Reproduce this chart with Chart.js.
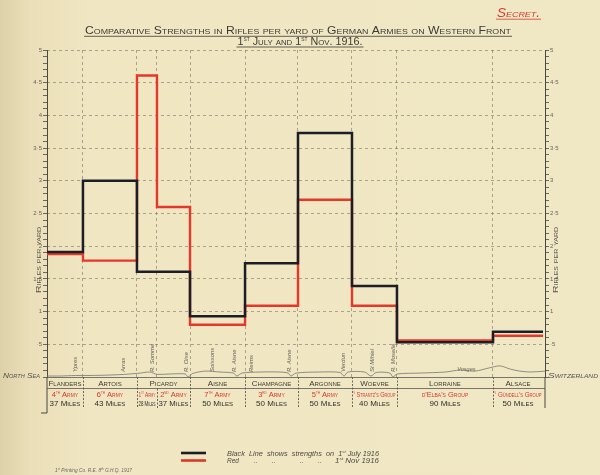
<!DOCTYPE html>
<html><head><meta charset="utf-8">
<script src="https://cdn.jsdelivr.net/npm/chart.js@4.4.1/dist/chart.umd.min.js"></script>
<style>html,body{margin:0;padding:0;background:#efe5c0;}#wrap{width:600px;height:475px;}</style>
</head><body><div id="wrap"><canvas id="c" width="600" height="475"></canvas></div>
<script>
// ---- data ----
const sectorNames = ['Flanders','Artois','Picardy','Picardy','Aisne','Champagne','Argonne','Woevre','Lorraine','Alsace'];
const armyNames = ['4^th^ Army','6^th^ Army','1^st^ Army','2^nd^ Army','7^th^ Army','3^rd^ Army','5^th^ Army',"^v^ Strantz's Group","d'Elba's Group","^v^ Gündell's Group"];
const frontMiles = [37,43,28,37,50,50,50,40,90,50];
// sector limits as drawn along the front (miles from the North Sea)
const boundaries = [0,34.3,85.8,104.9,136.4,188.9,239.4,290.9,333.8,425.4,473.1];
const july1916 = [1.91,3.00,1.61,1.61,0.93,1.74,3.73,1.39,0.53,0.69];
const nov1916  = [1.88,1.78,4.61,2.60,0.80,1.09,2.71,1.09,0.56,0.63];
const yMajorTicks = [0.5,1,1.5,2,2.5,3,3.5,4,4.5,5];
const riverNames = ['Ypres','Arras','R. Somme','R. Oise','Soissons','R. Aisne','Reims','R. Aisne','Verdun','St Mihiel','R. Moselle'];
const riverMiles = [26.7,72.5,100.2,132.6,157.4,178.4,194.6,230.8,282.3,310,330];
const profileMiles = [0,12,27,41,60,74,89,98,105,117,132,134.5,139,151,165,178,181,186,203,222,230,232.7,237.5,260,279.5,283.3,287,303,309,314,327,330,334,356,380,394,408,422,432,442,451,461,475];
const profileHeight = [0.015,0.015,0.023,0.023,0.03,0.04,0.06,0.076,0.04,0.046,0.046,0,0.054,0.09,0.076,0.06,0.015,0.06,0.076,0.076,0.06,0.015,0.06,0.076,0.07,0.015,0.076,0.076,0.015,0.07,0.06,0,0.046,0.06,0.076,0.107,0.09,0.14,0.17,0.12,0.09,0.076,0.09];

const FAM = "'Liberation Sans', 'DejaVu Sans', sans-serif";
const INK = '#3d3b36', RED = '#d8382c';

const stepData = vals => vals.map((v,i)=>({x:boundaries[i], y:v})).concat([{x:boundaries[vals.length], y:vals[vals.length-1]}]);
const parse = s => s.split('^').map((t,i)=>({t, sup:i%2===1})).filter(p=>p.t.length);
const isMajor = v => Math.abs(v*2-Math.round(v*2))<1e-6;
const fmt = v => { if (v===0) return ''; if (!isMajor(v)) return ''; let s = (Math.round(v*10)/10).toString(); if (s.startsWith('0.')) s = s.slice(1); return s.replace('.', '·'); };
const minorTicks = s => { s.ticks = Array.from({length:51},(_,i)=>({value:i/10})); };

function rich(ctx, parts, x, y, o) {
  const base = o.size;
  const fontFor = p => `${o.italic?'italic ':''}${o.caps?'small-caps ':''}${o.weight||'normal'} ${p.sup? base*0.6 : base}px ${FAM}`;
  let total = 0; const ws = [];
  parts.forEach(p=>{ctx.font=fontFor(p); const w=ctx.measureText(p.t).width; ws.push(w); total+=w;});
  let sx = 1;
  if (o.width) sx = o.width/total; else if (o.maxWidth && total>o.maxWidth) sx = o.maxWidth/total;
  const W = total*sx;
  const x0 = o.align==='center'? x-W/2 : o.align==='right'? x-W : x;
  ctx.save(); ctx.fillStyle=o.color; ctx.textBaseline='alphabetic'; ctx.textAlign='left';
  ctx.translate(x0,y); ctx.scale(sx,1);
  let cx=0;
  parts.forEach((p,i)=>{ctx.font=fontFor(p); ctx.fillText(p.t,cx,p.sup? -base*0.4:0); cx+=ws[i];});
  ctx.restore();
  if (o.underline) {ctx.save(); ctx.strokeStyle=o.color; ctx.lineWidth=o.ulw||0.8; ctx.beginPath(); ctx.moveTo(x0-1,y+o.underline); ctx.lineTo(x0+W+1,y+o.underline); ctx.stroke(); ctx.restore();}
  return W;
}

const bgPlugin = {id:'bg', beforeDraw(c){const g=c.ctx; const gr=g.createLinearGradient(0,0,600,0);
  gr.addColorStop(0,'#ddd1a9'); gr.addColorStop(0.05,'#eadfb8'); gr.addColorStop(0.15,'#f0e6c2'); gr.addColorStop(1,'#f0e7c4');
  g.save(); g.fillStyle=gr; g.fillRect(0,0,c.width,c.height); g.restore();}};

const decoPlugin = {id:'deco', afterDraw(c){
  const g=c.ctx, xs=c.scales.x, A=c.chartArea; const px=v=>xs.getPixelForValue(v);
  // titles
  rich(g, parse('Secret.'), 518.5, 17, {size:12, caps:true, italic:true, color:RED, align:'center', width:43, underline:2.2});
  rich(g, parse('Comparative Strengths in Rifles per yard of German Armies on Western Front'), 298, 34, {size:11, caps:true, color:INK, align:'center', width:426, underline:2.3});
  rich(g, parse('1^st^ July and 1^st^ Nov. 1916.'), 300, 45, {size:11, caps:true, color:INK, align:'center', width:125, underline:2});
  // axis titles
  [[38,260],[555,260]].forEach(([x,y])=>{g.save(); g.translate(x,y); g.rotate(-Math.PI/2);
    rich(g, parse('Rifles per yard'), 0, 2.5, {size:7.5, caps:true, color:'#55534d', align:'center', width:66}); g.restore();});
  // river / town names
  riverNames.forEach((n,i)=>{g.save(); g.translate(px(riverMiles[i]), 372); g.rotate(-Math.PI/2);
    rich(g, [{t:n}], 0, 2, {size:6, italic:true, color:'#66645d', align:'left'}); g.restore();});
  rich(g, [{t:'Vosges'}], px(400), 371, {size:5.5, italic:true, color:'#66645d', align:'center'});
  rich(g, parse('North Sea'), 3, 378, {size:7.5, italic:true, caps:true, color:'#55534d', align:'left', width:37});
  rich(g, parse('Switzerland'), 548, 378, {size:7.5, italic:true, caps:true, color:'#55534d', align:'left', width:50});
  // table lines
  const top=A.bottom, mid=top+11.5, bot=408;
  g.save(); g.strokeStyle='#6a6862'; g.lineWidth=0.9;
  g.beginPath(); g.moveTo(px(0),top+0.5); g.lineTo(A.right,top+0.5); g.moveTo(px(0),mid); g.lineTo(A.right,mid); g.stroke();
  g.strokeStyle='#4a4844'; g.lineWidth=1;
  g.beginPath(); g.moveTo(A.left,top); g.lineTo(A.left,413); g.moveTo(A.left-6,413); g.lineTo(A.left,413); g.moveTo(A.right,top); g.lineTo(A.right,bot); g.stroke();
  g.setLineDash([2,1.5]); g.strokeStyle='#5a5852'; g.lineWidth=0.9;
  for (let i=1;i<boundaries.length-1;i++){ const x=Math.round(px(boundaries[i]))+0.5;
    g.beginPath(); g.moveTo(x, sectorNames[i]===sectorNames[i-1]? mid: top); g.lineTo(x,bot); g.stroke(); }
  g.restore();
  // sector names (merged spans)
  let s=0;
  for (let i=1;i<=sectorNames.length;i++){ if (i===sectorNames.length || sectorNames[i]!==sectorNames[s]) {
      const x0=px(boundaries[s]), x1=px(boundaries[i]);
      rich(g, [{t:sectorNames[s]}], (x0+x1)/2, top+9, {size:8, caps:true, color:INK, align:'center', maxWidth:x1-x0-3});
      s=i; } }
  armyNames.forEach((n,i)=>{ const x0=px(boundaries[i]), x1=px(boundaries[i+1]);
    rich(g, parse(n), (x0+x1)/2, top+20, {size:7.5, caps:true, color:RED, align:'center', maxWidth:x1-x0-3});
    rich(g, [{t:frontMiles[i]+' Miles'}], (x0+x1)/2, top+29, {size:8, caps:true, color:'#2f2e2a', align:'center', maxWidth:x1-x0-3}); });
  // legend
  g.save(); g.lineWidth=2.6; g.strokeStyle='#1b1e26'; g.beginPath(); g.moveTo(181,453); g.lineTo(206,453); g.stroke();
  g.strokeStyle=RED; g.beginPath(); g.moveTo(181,460.5); g.lineTo(206,460.5); g.stroke(); g.restore();
  const lo={size:6.5, italic:true, color:'#4d4b46', align:'left'};
  rich(g, parse('Black  Line  shows  strengths  on  1^st^ July 1916'), 227, 455.5, {...lo, width:152});
  rich(g, [{t:'Red'}], 227, 463, lo);
  [254,272,300,318].forEach(x=>rich(g, [{t:'..'}], x, 463, lo));
  rich(g, parse('1^st^ Nov 1916'), 335, 463, {...lo, width:44});
  rich(g, parse('1^st^ Printing Co. R.E. 8^th^ G.H.Q. 1917'), 55, 472, {size:4.5, italic:true, color:'#6a6862', align:'left', width:77});
}};

const gridDash = [3,3];
const gridColor = 'rgba(90,88,80,0.6)';
new Chart(document.getElementById('c'), {
  type:'line',
  data:{datasets:[
    {label:'1st July 1916', data:stepData(july1916), borderColor:'#1b1e26', borderWidth:2.5, stepped:true, pointRadius:0, fill:false, borderCapStyle:'butt', borderJoinStyle:'miter'},
    {label:'1st Nov 1916', data:stepData(nov1916), borderColor:'#e5382b', borderWidth:2.4, stepped:true, pointRadius:0, fill:false, borderCapStyle:'butt', borderJoinStyle:'miter'},
    {label:'front', data:profileMiles.map((m,i)=>({x:m,y:profileHeight[i]})), borderColor:'#77756d', borderWidth:0.8, tension:0.3, pointRadius:0, fill:false}
  ]},
  options:{
    responsive:false, animation:false, devicePixelRatio:1,
    layout:{padding:{top:50,left:0,right:0,bottom:0}},
    plugins:{legend:{display:false}, tooltip:{enabled:false}, title:{display:false}},
    scales:{
      x:{type:'linear', min:0, max:475, afterBuildTicks:s=>{s.ticks=boundaries.slice(1,-1).map(v=>({value:v}));},
         ticks:{display:false}, grid:{color:gridColor, lineWidth:0.8, drawTicks:false, borderDash:gridDash},
         border:{display:false, dash:gridDash}, afterFit:s=>{s.height=98;}},
      y:{position:'left', min:0, max:5, afterBuildTicks:minorTicks,
         ticks:{autoSkip:false, callback:v=>fmt(v), font:{size:6, family:FAM}, color:'#66645e', padding:1},
         grid:{drawOnChartArea:false, tickLength:4, tickColor:'#4a4844', tickWidth:0.8},
         border:{color:'#4a4844', width:1}, afterFit:s=>{s.width=47;}},
      yg:{position:'left', min:0, max:5, afterBuildTicks:s=>{s.ticks=yMajorTicks.map(v=>({value:v}));},
         ticks:{display:false}, grid:{color:gridColor, lineWidth:0.8, drawTicks:false, borderDash:gridDash},
         border:{display:false, dash:gridDash}, afterFit:s=>{s.width=0;}},
      y2:{position:'right', min:0, max:5, afterBuildTicks:minorTicks,
         ticks:{autoSkip:false, callback:v=>fmt(v), font:{size:6, family:FAM}, color:'#66645e', padding:1},
         grid:{drawOnChartArea:false, tickLength:4, tickColor:'#4a4844', tickWidth:0.8},
         border:{color:'#4a4844', width:1}, afterFit:s=>{s.width=55;}}
    }
  },
  plugins:[bgPlugin, decoPlugin]
});
</script></body></html>
